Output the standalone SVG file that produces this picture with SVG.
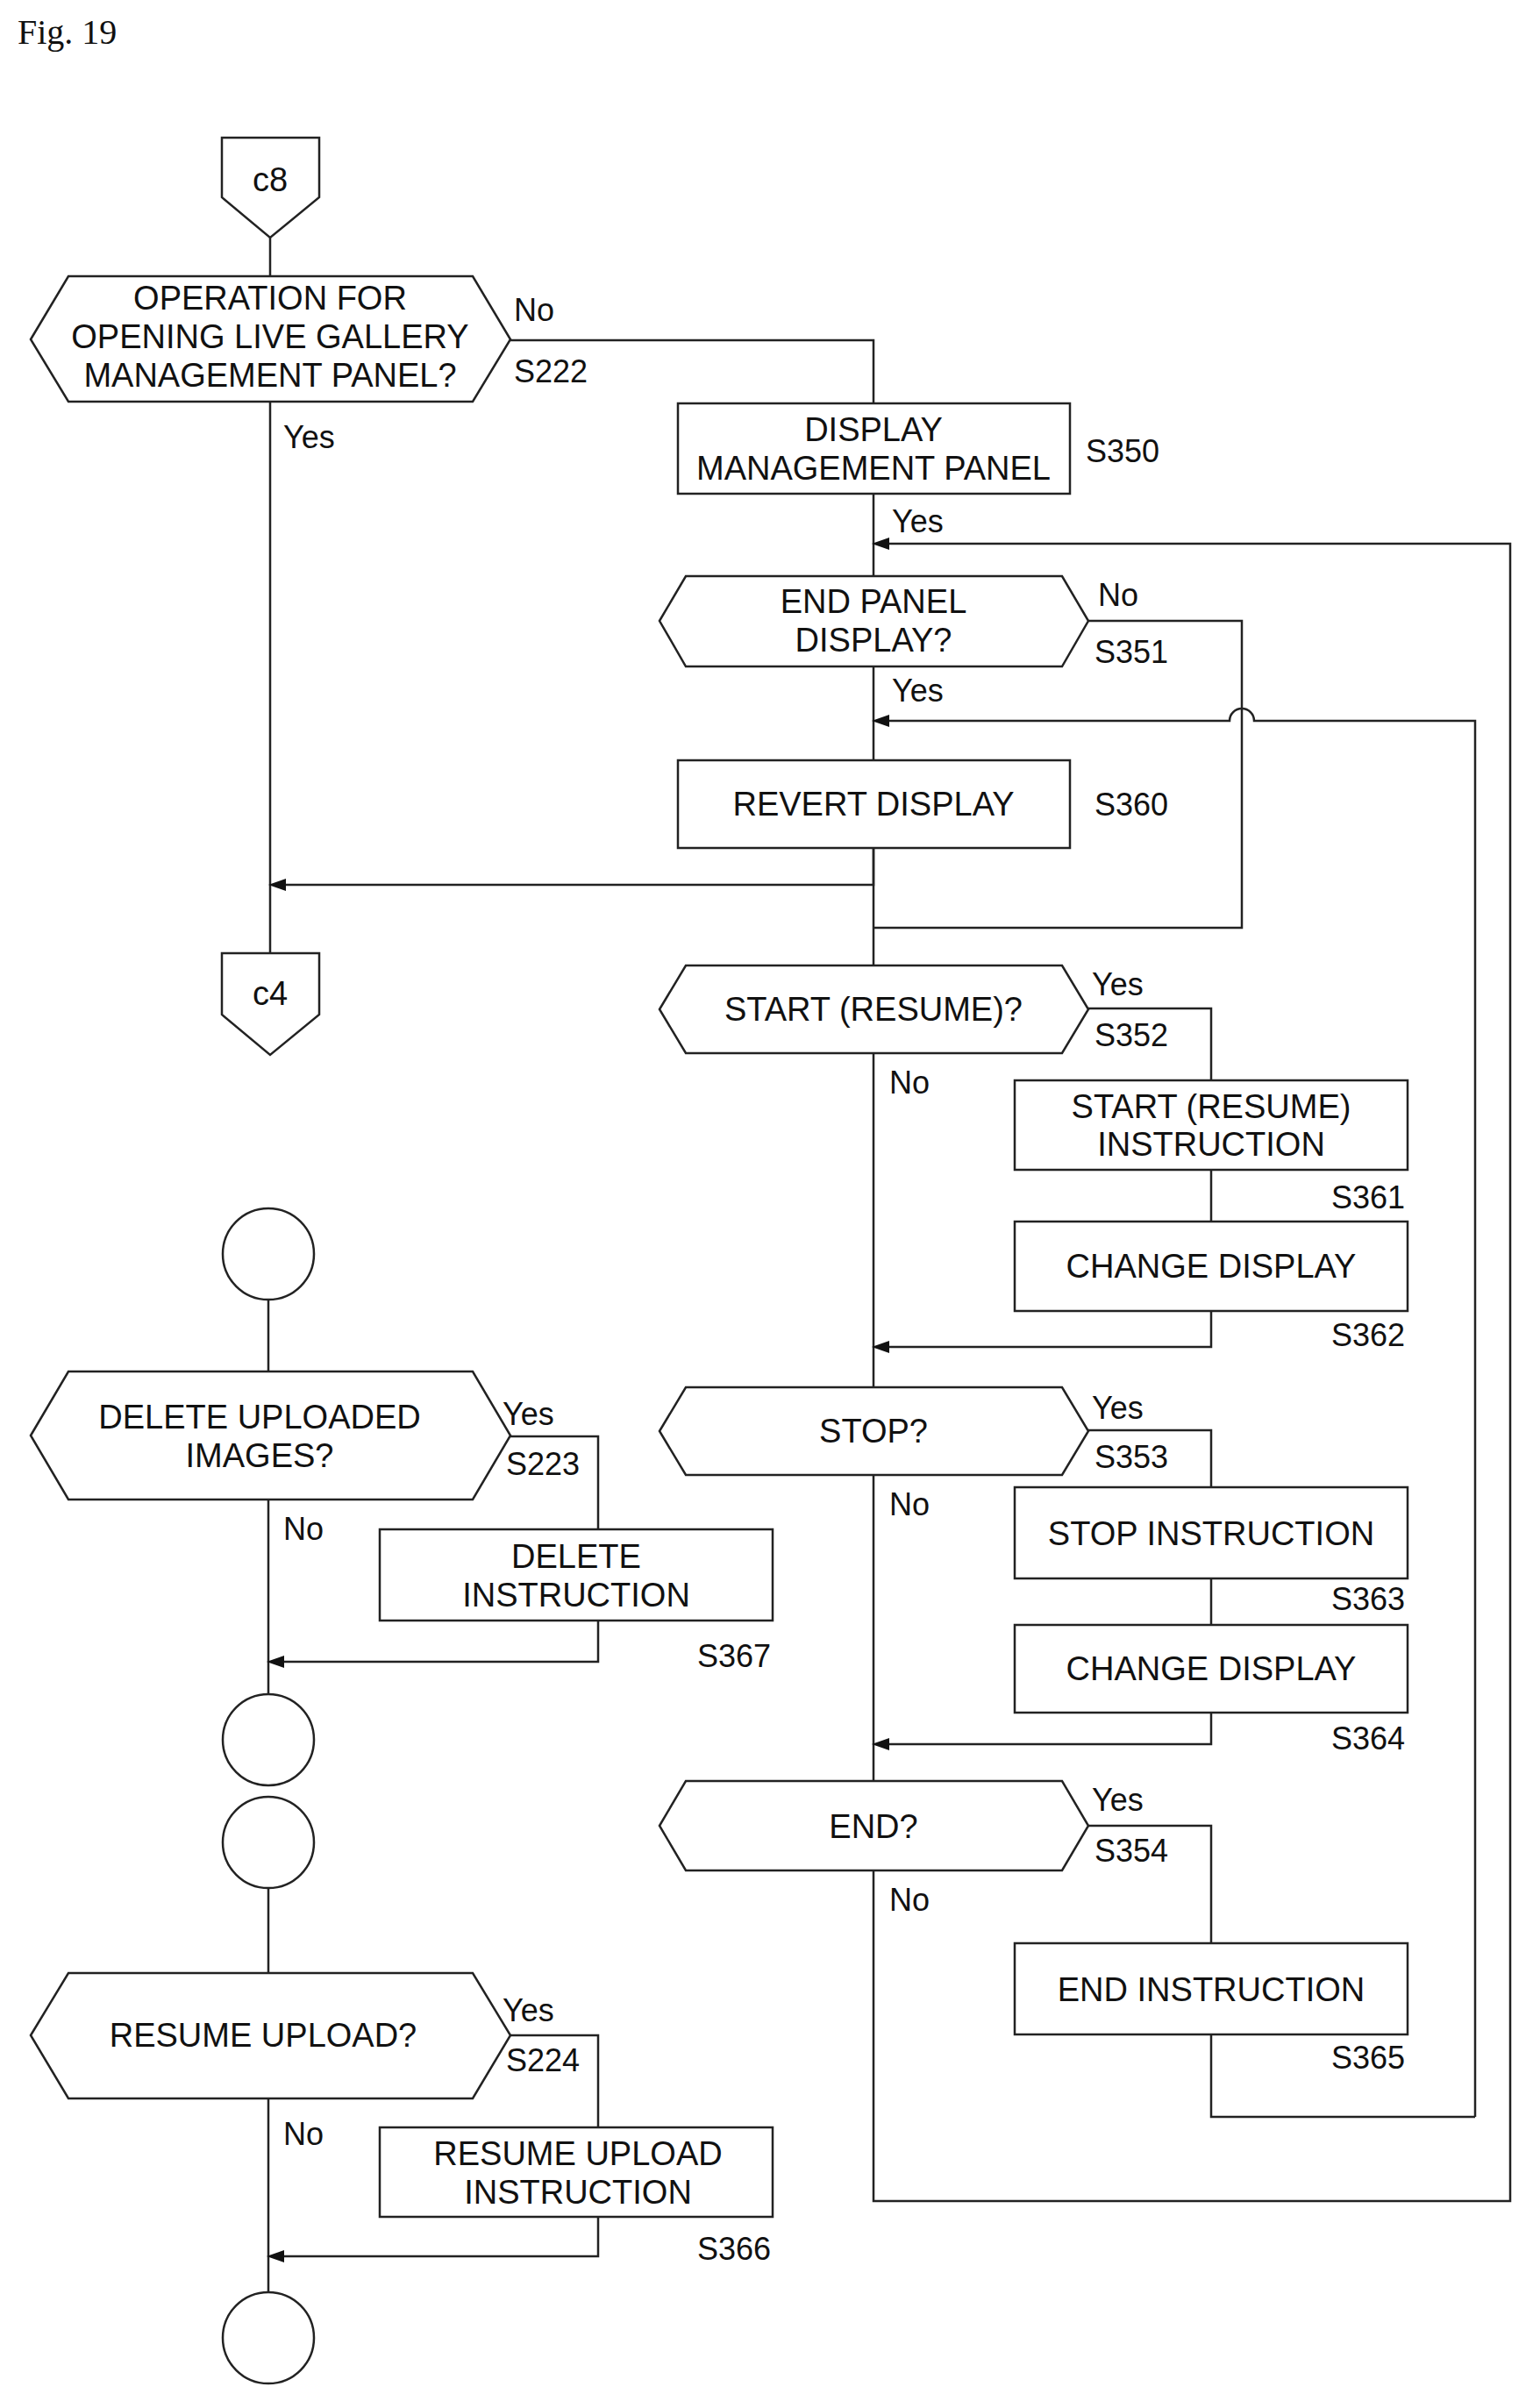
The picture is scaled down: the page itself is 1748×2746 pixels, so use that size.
<svg xmlns="http://www.w3.org/2000/svg" width="1748" height="2746" viewBox="0 0 1748 2746">
<style>
.s{fill:#fff;stroke:#222;stroke-width:2.5}
.l{fill:none;stroke:#222;stroke-width:2.5}
text{font-family:"Liberation Sans",Arial,sans-serif;font-size:38px;fill:#111}
.c{text-anchor:middle}
.r{text-anchor:end}
.lb{font-size:36px}
</style>
<defs>
<marker id="a" viewBox="0 0 20 14" refX="2" refY="7" markerWidth="20" markerHeight="14" markerUnits="userSpaceOnUse" orient="auto"><path d="M20,7 L0,0 L0,14 Z" fill="#111"/></marker>
</defs>
<rect width="1748" height="2746" fill="#fff"/>
<text x="20" y="50" style="font-family:'Liberation Serif',serif;font-size:40px">Fig. 19</text>
<g id="connectors">
<path class="l" d="M308,271 V315 M308,458 V1087"/>
<path class="l" d="M582,388 H996 V460 M996,563 V657 M996,760 V1101 M996,1201 V2031 M996,2133 V2510 H1722 V620 H1012" marker-end="url(#a)"/>
<path class="l" d="M1241,708 H1416 V1058 H996"/>
<path class="l" d="M1682,2414 V822 H1430 A14,14 0 0 0 1402,822 H1012" marker-end="url(#a)"/>
<path class="l" d="M1381,2320 V2414 H1682"/>
<path class="l" d="M996,967 V1009 H324" marker-end="url(#a)"/>
<path class="l" d="M1241,1150 H1381 V1232 M1381,1334 V1393 M1381,1495 V1536 H1012" marker-end="url(#a)"/>
<path class="l" d="M1241,1631 H1381 V1696 M1381,1800 V1853 M1381,1953 V1989 H1012" marker-end="url(#a)"/>
<path class="l" d="M1241,2082 H1381 V2216"/>
<path class="l" d="M306,1482 V1564 M306,1710 V1932 M306,2153 V2250 M306,2393 V2614"/>
<path class="l" d="M582,1638 H682 V1744 M682,1848 V1895 H322" marker-end="url(#a)"/>
<path class="l" d="M582,2321 H682 V2426 M682,2528 V2573 H322" marker-end="url(#a)"/>
</g>
<g id="c8"><path class="s" d="M253,157 H364 V225 L308,271 L253,225 Z"/><text class="c" x="308" y="218">c8</text></g>
<g id="S222"><path class="s" d="M35,387 L78,315 H539 L582,387 L539,458 H78 Z"/>
<text class="c" x="308" y="353">OPERATION FOR</text><text class="c" x="308" y="397">OPENING LIVE GALLERY</text><text class="c" x="308" y="441">MANAGEMENT PANEL?</text></g>
<g id="S350"><rect class="s" x="773" y="460" width="447" height="103"/><text class="c" x="996" y="503">DISPLAY</text><text class="c" x="996" y="547">MANAGEMENT PANEL</text></g>
<g id="S351"><path class="s" d="M752,708 L782,657 H1211 L1241,708 L1211,760 H782 Z"/><text class="c" x="996" y="699">END PANEL</text><text class="c" x="996" y="743">DISPLAY?</text></g>
<g id="S360"><rect class="s" x="773" y="867" width="447" height="100"/><text class="c" x="996" y="930">REVERT DISPLAY</text></g>
<g id="c4"><path class="s" d="M253,1087 H364 V1157 L308,1203 L253,1157 Z"/><text class="c" x="308" y="1146">c4</text></g>
<g id="S352"><path class="s" d="M752,1151 L782,1101 H1211 L1241,1151 L1211,1201 H782 Z"/><text class="c" x="996" y="1164">START (RESUME)?</text></g>
<g id="S361"><rect class="s" x="1157" y="1232" width="448" height="102"/><text class="c" x="1381" y="1275">START (RESUME)</text><text class="c" x="1381" y="1318">INSTRUCTION</text></g>
<g id="S362"><rect class="s" x="1157" y="1393" width="448" height="102"/><text class="c" x="1381" y="1457">CHANGE DISPLAY</text></g>
<g id="S353"><path class="s" d="M752,1632 L782,1582 H1211 L1241,1632 L1211,1682 H782 Z"/><text class="c" x="996" y="1645">STOP?</text></g>
<g id="S363"><rect class="s" x="1157" y="1696" width="448" height="104"/><text class="c" x="1381" y="1762">STOP INSTRUCTION</text></g>
<g id="S364"><rect class="s" x="1157" y="1853" width="448" height="100"/><text class="c" x="1381" y="1916">CHANGE DISPLAY</text></g>
<g id="S354"><path class="s" d="M752,2082 L782,2031 H1211 L1241,2082 L1211,2133 H782 Z"/><text class="c" x="996" y="2096">END?</text></g>
<g id="S365"><rect class="s" x="1157" y="2216" width="448" height="104"/><text class="c" x="1381" y="2282">END INSTRUCTION</text></g>
<g id="circle1"><circle class="s" cx="306" cy="1430" r="52"/></g>
<g id="S223"><path class="s" d="M35,1637 L78,1564 H539 L582,1637 L539,1710 H78 Z"/><text class="c" x="296" y="1629">DELETE UPLOADED</text><text class="c" x="296" y="1673">IMAGES?</text></g>
<g id="S367"><rect class="s" x="433" y="1744" width="448" height="104"/><text class="c" x="657" y="1788">DELETE</text><text class="c" x="657" y="1832">INSTRUCTION</text></g>
<g id="circle2"><circle class="s" cx="306" cy="1984" r="52"/></g>
<g id="circle3"><circle class="s" cx="306" cy="2101" r="52"/></g>
<g id="S224"><path class="s" d="M35,2321 L78,2250 H539 L582,2321 L539,2393 H78 Z"/><text class="c" x="300" y="2334">RESUME UPLOAD?</text></g>
<g id="S366"><rect class="s" x="433" y="2426" width="448" height="102"/><text class="c" x="659" y="2469">RESUME UPLOAD</text><text class="c" x="659" y="2513">INSTRUCTION</text></g>
<g id="circle4"><circle class="s" cx="306" cy="2666" r="52"/></g>
<g id="labels" class="lb">
<text class="lb" x="586" y="366">No</text><text class="lb" x="586" y="436">S222</text><text class="lb" x="323" y="511">Yes</text>
<text class="lb" x="1238" y="527">S350</text><text class="lb" x="1017" y="607">Yes</text>
<text class="lb" x="1252" y="691">No</text><text class="lb" x="1248" y="756">S351</text><text class="lb" x="1017" y="800">Yes</text>
<text class="lb" x="1248" y="930">S360</text>
<text class="lb" x="1245" y="1135">Yes</text><text class="lb" x="1248" y="1193">S352</text><text class="lb" x="1014" y="1247">No</text>
<text class="lb r" x="1602" y="1378">S361</text><text class="lb r" x="1602" y="1535">S362</text>
<text class="lb" x="1245" y="1618">Yes</text><text class="lb" x="1248" y="1674">S353</text><text class="lb" x="1014" y="1728">No</text>
<text class="lb r" x="1602" y="1836">S363</text><text class="lb r" x="1602" y="1995">S364</text>
<text class="lb" x="1245" y="2065">Yes</text><text class="lb" x="1248" y="2123">S354</text><text class="lb" x="1014" y="2179">No</text>
<text class="lb r" x="1602" y="2359">S365</text>
<text class="lb" x="573" y="1625">Yes</text><text class="lb" x="577" y="1682">S223</text><text class="lb" x="323" y="1756">No</text>
<text class="lb r" x="879" y="1901">S367</text>
<text class="lb" x="573" y="2305">Yes</text><text class="lb" x="577" y="2362">S224</text><text class="lb" x="323" y="2446">No</text>
<text class="lb r" x="879" y="2577">S366</text>
</g>
</svg>
